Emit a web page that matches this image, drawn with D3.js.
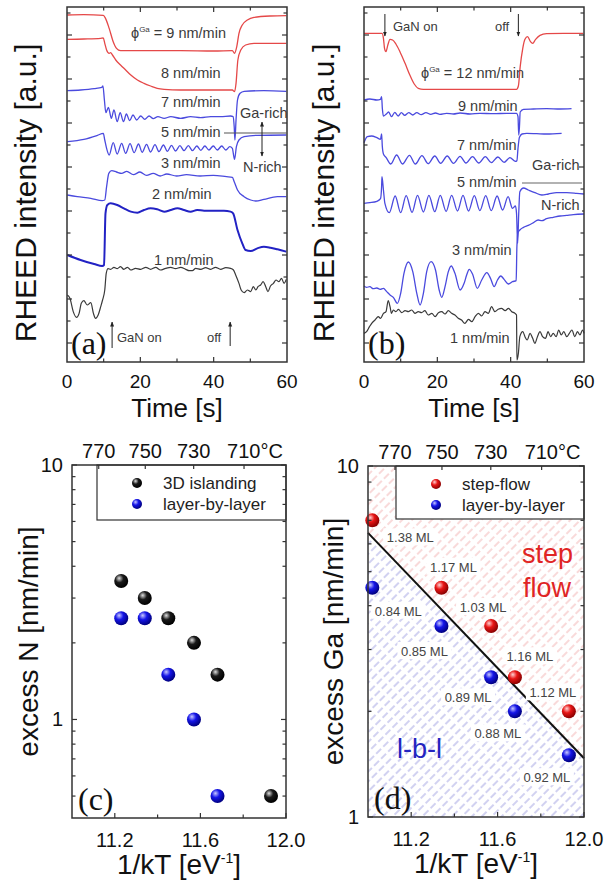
<!DOCTYPE html>
<html><head><meta charset="utf-8">
<script src="https://cdn.jsdelivr.net/npm/d3@7"></script>
<style>
body{margin:0;background:#fff}
svg{display:block}
text{font-family:"Liberation Sans",Arial,Helvetica,sans-serif}
text.serif{font-family:"Liberation Serif","Times New Roman",serif}
</style>
</head><body><svg id="c" width="608" height="888"></svg>
<script>
// ================= DATA =================
// Panel (a): RHEED transients, [time s, intensity a.u.]
const a_9nm = [[0.1,1041],[4.6,1042],[9.9,1040],[10.5,1031],[11.5,1001],[12.6,961],[13.5,941],[14.6,934],[21.9,934],[31,934],[40.1,933],[45.1,934],[45.7,926],[46.3,946],[46.9,986],[47.8,1011],[49.2,1026],[51,1034],[55.5,1038],[59.8,1039]];
const a_8nm = [[0.1,968],[4.6,969],[9.2,971],[9.9,972],[10.3,956],[10.8,936],[11.5,926],[11.9,928],[12.4,921],[13.3,906],[14.6,891],[16,876],[17.4,861],[19.2,846],[21,836],[22.8,828],[24.6,821],[26.5,818],[31,816],[35.5,816],[40.1,816],[45.1,816],[45.7,811],[46.1,836],[46.6,906],[47.4,936],[48.7,951],[51,956],[55.5,956],[59.8,956]];
const a_7nm = [[0.1,814],[3.7,816],[7.4,820],[9.5,824],[9.8,828],[10.2,786],[10.6,748],[11.3,764],[12.1,731],[12.8,756],[13.7,721],[14.5,748],[15.4,721],[16.2,744],[17.1,724],[18,741],[19,726],[20.1,738],[21.2,728],[22.4,738],[23.5,730],[24.8,736],[26.5,731],[28.3,736],[31,731],[33.7,736],[36.5,733],[39.2,736],[41.9,736],[44.6,738],[45.3,736],[45.6,706],[45.8,666],[46.1,726],[46.5,786],[47.2,806],[48.3,812],[53.7,814],[59.8,812]];
const a_5nm = [[0.1,661],[4.6,668],[8.3,680],[9.9,686],[10.3,666],[10.8,641],[11.5,621],[12.6,658],[13.7,624],[14.9,656],[16,626],[17.2,655],[18.3,628],[19.5,654],[20.5,629],[21.7,653],[22.8,630],[24,652],[25.1,631],[26.3,651],[27.4,632],[28.5,650],[29.6,633],[30.8,649],[31.9,634],[33.1,649],[34.2,634],[35.4,648],[36.5,635],[37.6,648],[38.7,636],[39.9,648],[41,636],[42.2,648],[43.3,636],[44.4,646],[45.1,641],[45.5,616],[45.7,608],[46.2,646],[46.9,666],[48.3,676],[51.9,680],[59.8,681]];
const a_3nm = [[0.1,501],[2.8,496],[6.5,491],[9.6,484],[10.3,486],[10.8,526],[11.4,566],[12.2,574],[13.5,570],[14.9,566],[16.3,572],[18.1,562],[19.9,570],[21.7,560],[23.5,566],[25.4,558],[27.2,564],[29.9,558],[32.6,562],[36.3,558],[39.9,560],[43.5,556],[45.1,554],[45.6,541],[46.5,516],[48.3,496],[50.1,486],[51.5,483],[53.7,488],[57.4,496],[59.8,496]];
const a_2nm = [[0.1,321],[3.7,306],[7.4,294],[9.6,288],[10.1,291],[10.5,446],[11,471],[11.9,476],[13.7,471],[15.5,461],[17.4,451],[19.2,448],[21,456],[22.8,461],[24.6,458],[26.5,451],[28.3,456],[30.1,461],[31.9,456],[33.7,451],[35.5,456],[37.4,454],[40.1,454],[42.8,454],[44.6,451],[45.3,446],[46.5,396],[47.8,356],[48.7,336],[50.1,333],[51.9,341],[53.7,346],[55.5,343],[57.4,338],[59.8,331]];
const a_1nm = [[0.1,201],[0.8,191],[1.7,151],[2.6,134],[3.3,146],[3.9,176],[4.6,184],[5.5,171],[6.5,178],[7.2,146],[7.8,131],[8.5,141],[9.2,166],[9.7,186],[10.3,216],[10.7,266],[11.2,280],[11.9,278],[12.8,284],[13.7,280],[14.6,286],[15.5,278],[16.5,284],[17.4,276],[18.7,281],[20.1,278],[21.5,284],[22.8,278],[24.2,284],[25.5,276],[26.9,281],[28.3,284],[29.6,280],[31,284],[32.4,278],[33.3,274],[34.2,274],[35.1,281],[36.5,278],[37.8,283],[39.2,278],[40.5,284],[41.9,278],[43.3,283],[44.6,281],[45.4,276],[46,261],[46.9,236],[47.5,216],[48.3,208],[49.2,216],[50.1,211],[50.8,226],[51.5,216],[52.1,226],[52.8,231],[53.5,241],[54.2,226],[54.8,211],[55.5,228],[56.3,236],[57,246],[57.8,241],[58.5,251],[59.2,236],[59.8,248]];

// Panel (b)
const b_12nm = [[0,986],[2.5,986],[4.9,986],[5.3,971],[5.6,941],[6,931],[6.5,951],[7.1,968],[7.8,966],[8.7,954],[9.8,931],[11.2,896],[12.5,861],[13.7,834],[14.8,821],[16.2,818],[26.2,818],[35.3,818],[41.6,818],[42.1,828],[42.6,886],[43.3,941],[43.9,968],[44.6,976],[45.4,961],[46,956],[46.8,968],[48,980],[49.8,985],[54.4,986],[59.8,986]];
const b_9nm = [[0,786],[1.6,789],[3.5,786],[4.5,788],[4.8,796],[5,761],[5.3,738],[6,743],[6.7,750],[7.5,736],[8.4,749],[9.3,738],[10.2,748],[11.1,740],[12.2,748],[13.3,741],[14.4,748],[15.6,742],[16.9,748],[18.2,743],[19.5,747],[20.7,743],[22.5,746],[24.4,744],[26.2,747],[28.9,744],[31.6,746],[35.3,745],[38.9,746],[41.6,746],[42,736],[42.2,681],[42.4,706],[42.6,750],[43.5,758],[46.2,759],[49.8,760],[53.5,759],[56.6,760]];
const b_7nm = [[0,658],[0.9,676],[2.1,678],[3.5,673],[4.5,668],[4.8,684],[5,646],[5.3,624],[6,614],[7.3,594],[8.9,621],[10.5,594],[12.4,620],[14,594],[15.8,619],[17.5,595],[19.3,618],[20.9,596],[22.7,618],[24.4,596],[26.2,617],[27.8,597],[29.6,616],[31.3,597],[33.1,616],[34.7,598],[36.5,615],[38.2,599],[39.8,613],[41.3,602],[41.7,604],[42,641],[42.4,674],[43.1,684],[44.4,686],[47.1,685],[49.8,684],[53.9,686]];
const b_5nm = [[0,476],[1.6,478],[3.5,482],[4.5,490],[4.8,526],[4.9,556],[5.3,516],[5.7,476],[6.9,448],[8.5,498],[10,448],[11.5,499],[13.1,449],[14.6,500],[16.2,450],[17.7,500],[19.3,451],[20.8,500],[22.4,452],[23.9,500],[25.5,453],[27,500],[28.5,453],[30.1,499],[31.6,454],[33.2,499],[34.7,454],[36.3,498],[37.8,456],[39.3,496],[40.5,461],[41.3,468],[41.6,446],[41.9,356],[42.2,446],[42.5,511],[43.5,522],[44.8,516],[46.6,508],[48.5,501],[50.3,504],[52.5,508],[55.3,508],[58,506],[60,504]];
const b_3nm = [[0,228],[0.7,224],[1.6,226],[2.5,220],[3.5,222],[4.4,218],[5.3,221],[6.2,211],[7.1,201],[8,194],[9.1,176],[10,206],[10.9,266],[12.1,300],[13.3,271],[14.4,206],[15.3,171],[16.2,206],[17.1,271],[18.3,301],[19.5,276],[20.5,216],[21.2,194],[22.1,226],[23,271],[23.8,288],[24.8,266],[26.2,216],[27.3,236],[28,261],[28.7,278],[29.6,264],[30.9,221],[32.1,246],[33.5,268],[34.5,251],[35.5,226],[36.4,246],[37.3,258],[38.2,248],[39.4,234],[40.5,241],[41.5,244],[41.7,346],[42,388],[42.5,396],[43.5,404],[44.8,410],[46.2,418],[47.5,426],[48.5,424],[49.8,430],[51.6,434],[53.5,438],[55.3,440],[57.1,442],[60,444]];
const b_1nm = [[0,86],[0.7,91],[1.5,106],[2.1,116],[3,126],[3.9,136],[4.5,131],[5.3,146],[6,151],[6.6,184],[7.1,166],[7.5,146],[8,156],[8.7,151],[9.4,158],[10.3,148],[11.2,154],[12.1,151],[13,156],[13.9,146],[14.8,151],[15.7,148],[16.6,154],[17.5,141],[18.5,146],[19.4,136],[20.3,148],[21.2,151],[22.1,144],[23,154],[23.9,146],[24.8,141],[25.7,131],[26.6,126],[27.5,116],[28.5,128],[29.4,121],[30.3,136],[31.2,146],[32.1,138],[33,151],[33.9,146],[34.8,166],[35.7,151],[36.6,158],[37.5,161],[38.5,154],[39.4,161],[40.3,151],[41.2,146],[41.6,141],[41.7,6],[42.1,26],[42.5,76],[43.3,91],[43.9,76],[44.5,66],[45.3,86],[46,71],[46.6,56],[47.3,76],[48,91],[48.7,76],[49.5,71],[50.2,91],[50.9,76],[51.6,86],[52.4,76],[53.1,96],[53.8,81],[54.5,91],[55.3,76],[56,86],[56.7,96],[57.5,76],[58.2,91],[58.9,81],[59.6,96],[60,86]];

const timeTickLabels = [0, 20, 40, 60];

// Panel (c): 1/kT [eV^-1] vs excess N [nm/min]
const c_island_x = [11.23, 11.34, 11.45, 11.57, 11.68, 11.93];
const c_island_y = [3.5, 3.0, 2.5, 2.0, 1.5, 0.5];
const c_lbl_x = [11.23, 11.34, 11.45, 11.57, 11.68];
const c_lbl_y = [2.5, 2.5, 1.5, 1.0, 0.5];

// Panel (d): 1/kT vs excess Ga [nm/min]
const d_step_x = [11.02, 11.34, 11.57, 11.68, 11.93];
const d_step_y = [7.0, 4.5, 3.5, 2.5, 2.0];
const d_step_ml = ["1.38 ML", "1.17 ML", "1.03 ML", "1.16 ML", "1.12 ML"];
const d_lbl_x = [11.02, 11.34, 11.57, 11.68, 11.93];
const d_lbl_y = [4.5, 3.5, 2.5, 2.0, 1.5];
const d_lbl_ml = ["0.84 ML", "0.85 ML", "0.89 ML", "0.88 ML", "0.92 ML"];
const d_boundary = [[11.0, 6.45], [12.0, 1.47]];

const invKTTicks = [11.2, 11.6, 12.0];
const invKTMinor = [11.4, 11.8];
const tempTicksC = [770, 750, 730, 710];

// ================= DRAW =================
const svg = d3.select("#c");
const defs = svg.append("defs");
const kB = 8.617e-5;
const invKT = T => 1 / (kB * (T + 273.15));

function sphereGrad(id, hi, mid, lo) {
  const g = defs.append("radialGradient").attr("id", id)
    .attr("cx", "38%").attr("cy", "35%").attr("r", "65%").attr("fx", "35%").attr("fy", "30%");
  g.append("stop").attr("offset", "0%").attr("stop-color", hi);
  g.append("stop").attr("offset", "45%").attr("stop-color", mid);
  g.append("stop").attr("offset", "100%").attr("stop-color", lo);
}
sphereGrad("gBlack", "#e0e0e0", "#1a1a1a", "#000");
sphereGrad("gBlue", "#c8c8ff", "#1515e8", "#000080");
sphereGrad("gRed", "#ffd0d0", "#e81515", "#8a0000");

function hatch(id, color) {
  const p = defs.append("pattern").attr("id", id).attr("patternUnits", "userSpaceOnUse")
    .attr("width", 7).attr("height", 10).attr("patternTransform", "rotate(45)");
  p.append("line").attr("x1", 1).attr("y1", 0).attr("x2", 1).attr("y2", 10)
    .attr("stroke", color).attr("stroke-width", 1).attr("stroke-dasharray", "7,3");
}
hatch("hBlue", "#a4a4e2");
hatch("hRed", "#f2b4b4");

const mk = defs.append("marker").attr("id", "arr").attr("viewBox", "0 0 10 10")
  .attr("refX", 9).attr("refY", 5).attr("markerWidth", 5).attr("markerHeight", 5)
  .attr("orient", "auto-start-reverse");
mk.append("path").attr("d", "M0,1 L10,5 L0,9 z").attr("fill", "#222");

// ---------- time-series panels ----------
function tsPanel(cfg) {
  const x = d3.scaleLinear().domain([0, 60]).range([cfg.l, cfg.r]);
  const y = d3.scaleLinear().domain([0, 1065]).range([cfg.b, cfg.t]);
  const g = svg.append("g");
  const line = d3.line().x(d => x(d[0])).y(d => y(d[1])).curve(d3.curveMonotoneX);
  cfg.curves.forEach(c => {
    g.append("path").datum(c.data).attr("d", line).attr("fill", "none")
      .attr("stroke", c.color).attr("stroke-width", c.w || 1.3).attr("stroke-linejoin", "round");
  });
  g.append("rect").attr("x", cfg.l).attr("y", cfg.t).attr("width", cfg.r - cfg.l).attr("height", cfg.b - cfg.t)
    .attr("fill", "none").attr("stroke", "#333").attr("stroke-width", 1.5);
  d3.range(10, 60, 10).forEach(v => {
    const len = v % 20 === 0 ? 5 : 3.5;
    g.append("line").attr("x1", x(v)).attr("x2", x(v)).attr("y1", cfg.b).attr("y2", cfg.b - len).attr("stroke", "#333").attr("stroke-width", 1.2);
    g.append("line").attr("x1", x(v)).attr("x2", x(v)).attr("y1", cfg.t).attr("y2", cfg.t + len).attr("stroke", "#333").attr("stroke-width", 1.2);
  });
  d3.range(57, 1048, 66).forEach((v, i) => {
    const len = i % 2 === 0 ? 5 : 3.5;
    g.append("line").attr("x1", cfg.l).attr("x2", cfg.l + len).attr("y1", y(v)).attr("y2", y(v)).attr("stroke", "#333").attr("stroke-width", 1.2);
    g.append("line").attr("x1", cfg.r).attr("x2", cfg.r - len).attr("y1", y(v)).attr("y2", y(v)).attr("stroke", "#333").attr("stroke-width", 1.2);
  });
  timeTickLabels.forEach(v => {
    g.append("text").attr("x", x(v)).attr("y", cfg.b + 26).attr("text-anchor", "middle")
      .attr("font-size", 19).attr("fill", "#111").text(v);
  });
  g.append("text").attr("x", (cfg.l + cfg.r) / 2).attr("y", cfg.b + 55).attr("text-anchor", "middle")
    .attr("font-size", 26).attr("fill", "#111").text("Time [s]");
  g.append("text").attr("transform", `translate(${cfg.ylabX},193) rotate(-90)`).attr("text-anchor", "middle")
    .attr("font-size", 30).attr("fill", "#111").text("RHEED intensity [a.u.]");
  g.append("text").attr("class", "serif").attr("x", cfg.l + 4).attr("y", cfg.b - 8)
    .attr("font-size", 32).attr("fill", "#111").text(cfg.tag);
  return {g, x, y};
}

function lab(g, xp, yp, txt, size, anchor) {
  return g.append("text").attr("x", xp).attr("y", yp).attr("font-size", size || 14.5)
    .attr("fill", "#3a3a3a").attr("text-anchor", anchor || "start").text(txt);
}
function phiLab(g, xp, yp, rest) {
  const t = g.append("text").attr("x", xp).attr("y", yp).attr("font-size", 14.5).attr("fill", "#3a3a3a");
  t.append("tspan").text("ϕ");
  t.append("tspan").attr("dy", -6).attr("font-size", 8).text("Ga");
  t.append("tspan").attr("dy", 6).text(" = " + rest);
}

const RED = "#e54848", BLUE = "#4a4ade", DBLUE = "#2222c4", BLK = "#3a3a3a";

// Panel (a)
const A = tsPanel({l: 67, r: 287, t: 7, b: 362, ylabX: 36, tag: "(a)", curves: [
  {data: a_9nm, color: RED}, {data: a_8nm, color: RED}, {data: a_7nm, color: BLUE},
  {data: a_5nm, color: BLUE}, {data: a_3nm, color: BLUE}, {data: a_2nm, color: DBLUE, w: 2},
  {data: a_1nm, color: BLK, w: 1.2}]});
phiLab(A.g, 131, 38, "9 nm/min");
lab(A.g, 161, 78, "8 nm/min");
lab(A.g, 161, 107, "7 nm/min");
lab(A.g, 161, 137, "5 nm/min");
lab(A.g, 161, 168, "3 nm/min");
lab(A.g, 152, 199, "2 nm/min");
lab(A.g, 154, 265, "1 nm/min");
A.g.append("line").attr("x1", 224).attr("x2", 287).attr("y1", 133).attr("y2", 133).attr("stroke", "#555").attr("stroke-width", 1.2);
A.g.append("rect").attr("x", 239).attr("y", 105).attr("width", 47).attr("height", 16).attr("fill", "#fff");
lab(A.g, 240, 118, "Ga-rich");
lab(A.g, 243, 172, "N-rich");
A.g.append("line").attr("x1", 262).attr("x2", 262).attr("y1", 138).attr("y2", 122).attr("stroke", "#222").attr("stroke-width", 1).attr("marker-end", "url(#arr)");
A.g.append("line").attr("x1", 262).attr("x2", 262).attr("y1", 138).attr("y2", 156).attr("stroke", "#222").attr("stroke-width", 1).attr("marker-end", "url(#arr)");
A.g.append("line").attr("x1", A.x(12.3)).attr("x2", A.x(12.3)).attr("y1", 348).attr("y2", 322).attr("stroke", "#222").attr("stroke-width", 1).attr("marker-end", "url(#arr)");
lab(A.g, 117, 342, "GaN on", 13);
lab(A.g, 207, 342, "off", 13);
A.g.append("line").attr("x1", A.x(44.5)).attr("x2", A.x(44.5)).attr("y1", 346).attr("y2", 322).attr("stroke", "#222").attr("stroke-width", 1).attr("marker-end", "url(#arr)");

// Panel (b)
const B = tsPanel({l: 364, r: 584, t: 7, b: 362, ylabX: 334, tag: "(b)", curves: [
  {data: b_12nm, color: RED}, {data: b_9nm, color: BLUE}, {data: b_7nm, color: BLUE},
  {data: b_5nm, color: BLUE}, {data: b_3nm, color: BLUE}, {data: b_1nm, color: BLK, w: 1.2}]});
B.g.append("line").attr("x1", B.x(5.7)).attr("x2", B.x(5.7)).attr("y1", 14).attr("y2", 36).attr("stroke", "#222").attr("stroke-width", 1).attr("marker-end", "url(#arr)");
lab(B.g, 393, 31, "GaN on", 13);
lab(B.g, 495, 31, "off", 13);
B.g.append("line").attr("x1", B.x(42.1)).attr("x2", B.x(42.1)).attr("y1", 14).attr("y2", 36).attr("stroke", "#222").attr("stroke-width", 1).attr("marker-end", "url(#arr)");
phiLab(B.g, 421, 78, "12 nm/min");
lab(B.g, 458, 111, "9 nm/min");
lab(B.g, 457, 150, "7 nm/min");
lab(B.g, 532, 170, "Ga-rich");
lab(B.g, 457, 187, "5 nm/min");
B.g.append("line").attr("x1", 522).attr("x2", 582).attr("y1", 183).attr("y2", 183).attr("stroke", "#666").attr("stroke-width", 1.2);
B.g.append("rect").attr("x", 540).attr("y", 198).attr("width", 42).attr("height", 14).attr("fill", "#fff");
lab(B.g, 541, 210, "N-rich");
lab(B.g, 452, 255, "3 nm/min");
lab(B.g, 450, 343, "1 nm/min");

// ---------- Arrhenius panels ----------
function arrPanel(cfg) {
  const x = d3.scaleLinear().domain([11.0, 12.0]).range([cfg.l, cfg.r]);
  const y = d3.scaleLog().domain(cfg.ydom).range([cfg.b, cfg.t]);
  const g = svg.append("g");
  return {g, x, y};
}
function arrAxes(P, cfg) {
  const {g, x, y} = P;
  g.append("rect").attr("x", cfg.l).attr("y", cfg.t).attr("width", cfg.r - cfg.l).attr("height", cfg.b - cfg.t)
    .attr("fill", "none").attr("stroke", "#333").attr("stroke-width", 1.5);
  invKTTicks.concat(invKTMinor).forEach(v => {
    const len = invKTTicks.includes(v) ? 5 : 3.5;
    g.append("line").attr("x1", x(v)).attr("x2", x(v)).attr("y1", cfg.b).attr("y2", cfg.b - len).attr("stroke", "#333").attr("stroke-width", 1.2);
  });
  invKTTicks.forEach(v => g.append("text").attr("x", x(v)).attr("y", cfg.b + 29).attr("text-anchor", "middle")
    .attr("font-size", 20).attr("fill", "#111").text(v.toFixed(1)));
  tempTicksC.forEach((T, i) => {
    const xv = x(invKT(T));
    g.append("line").attr("x1", xv).attr("x2", xv).attr("y1", cfg.t).attr("y2", cfg.t + 4).attr("stroke", "#333").attr("stroke-width", 1.2);
    const last = i === tempTicksC.length - 1;
    g.append("text").attr("x", last ? xv - 17 : xv).attr("y", cfg.t - 7).attr("text-anchor", last ? "start" : "middle")
      .attr("font-size", 20).attr("fill", "#111").text(last ? T + "°C" : T);
  });
  const yt = [];
  const [lo, hi] = y.domain();
  [0.1, 1].forEach(dec => [1,2,3,4,5,6,7,8,9].forEach(m => { const v = m * dec; if (v >= lo - 1e-9 && v <= hi + 1e-9) yt.push(v); }));
  yt.push(10);
  yt.forEach(v => {
    const major = Math.abs(v - 1) < 1e-9 || Math.abs(v - 10) < 1e-9;
    const len = major ? 5 : 3.5;
    g.append("line").attr("x1", cfg.l).attr("x2", cfg.l + len).attr("y1", y(v)).attr("y2", y(v)).attr("stroke", "#333").attr("stroke-width", 1.2);
    g.append("line").attr("x1", cfg.r).attr("x2", cfg.r - len).attr("y1", y(v)).attr("y2", y(v)).attr("stroke", "#333").attr("stroke-width", 1.2);
  });
  [1, 10].forEach(v => g.append("text").attr("x", cfg.l - 9).attr("y", y(v) + 7).attr("text-anchor", "end")
    .attr("font-size", 20).attr("fill", "#111").text(v));
  const xl = g.append("text").attr("x", (cfg.l + cfg.r) / 2).attr("y", cfg.b + 56).attr("text-anchor", "middle")
    .attr("font-size", 28).attr("fill", "#111");
  xl.append("tspan").text("1/kT [eV");
  xl.append("tspan").attr("dy", -11).attr("font-size", 14).text("-1");
  xl.append("tspan").attr("dy", 11).text("]");
  g.append("text").attr("transform", `translate(${cfg.ylabX},${(cfg.t + cfg.b) / 2}) rotate(-90)`).attr("text-anchor", "middle")
    .attr("font-size", 28).attr("fill", "#111").text(cfg.ylab);
  g.append("text").attr("class", "serif").attr("x", cfg.l + 6).attr("y", cfg.b - 8)
    .attr("font-size", 32).attr("fill", "#111").text(cfg.tag);
}
function legend(g, x0, y0, w, h, items) {
  g.append("rect").attr("x", x0).attr("y", y0).attr("width", w).attr("height", h)
    .attr("fill", "#fff").attr("stroke", "#333").attr("stroke-width", 1.2);
  items.forEach((it, i) => {
    const cy = y0 + 18 + i * 21;
    g.append("circle").attr("cx", x0 + 40).attr("cy", cy).attr("r", 5).attr("fill", it.fill);
    g.append("text").attr("x", x0 + 66).attr("y", cy + 6).attr("font-size", 17).attr("fill", "#222").text(it.label);
  });
}
function dots(P, xs, ys, fill) {
  P.g.selectAll(null).data(xs.map((v, i) => [v, ys[i]])).enter().append("circle")
    .attr("cx", d => P.x(d[0])).attr("cy", d => P.y(d[1])).attr("r", 7).attr("fill", fill);
}

// Panel (c)
const cfgC = {l: 72, r: 286, t: 465, b: 818, ydom: [0.41, 10], ylabX: 38, ylab: "excess N [nm/min]", tag: "(c)"};
const C = arrPanel(cfgC);
legend(C.g, 97, 465, 189, 55, [{fill: "url(#gBlack)", label: "3D islanding"}, {fill: "url(#gBlue)", label: "layer-by-layer"}]);
dots(C, c_island_x, c_island_y, "url(#gBlack)");
dots(C, c_lbl_x, c_lbl_y, "url(#gBlue)");
arrAxes(C, cfgC);

// Panel (d)
const cfgD = {l: 368, r: 584, t: 466, b: 817, ydom: [1, 10], ylabX: 343, ylab: "excess Ga [nm/min]", tag: "(d)"};
const D = arrPanel(cfgD);
const bx0 = D.x(d_boundary[0][0]), by0 = D.y(d_boundary[0][1]);
const bx1 = D.x(d_boundary[1][0]), by1 = D.y(d_boundary[1][1]);
D.g.append("polygon").attr("points", [[bx0, by0], [bx1, by1], [bx1, D.y(1)], [bx0, D.y(1)]].join(" ")).attr("fill", "url(#hBlue)");
D.g.append("polygon").attr("points", [[bx0, by0], [bx0, D.y(10)], [bx1, D.y(10)], [bx1, by1]].join(" ")).attr("fill", "url(#hRed)");
D.g.append("line").attr("x1", bx0).attr("y1", by0).attr("x2", bx1).attr("y2", by1).attr("stroke", "#111").attr("stroke-width", 2);
legend(D.g, 396, 466, 188, 53, [{fill: "url(#gRed)", label: "step-flow"}, {fill: "url(#gBlue)", label: "layer-by-layer"}]);
const stepOff = [[38, 17], [12, -21], [-8, -19], [15, -21], [-16, -19]];
const lblOff = [[26, 23], [-17, 25], [-23, 20], [-17, 22], [-22, 22]];
function mlLabels(xs, ys, txt, offs) {
  xs.forEach((v, i) => {
    const cx = D.x(v) + offs[i][0], cy = D.y(ys[i]) + offs[i][1];
    D.g.append("rect").attr("x", cx - 27).attr("y", cy - 9).attr("width", 54).attr("height", 17).attr("fill", "#fff");
    D.g.append("text").attr("x", cx).attr("y", cy + 5).attr("text-anchor", "middle").attr("font-size", 13).attr("fill", "#444").text(txt[i]);
  });
}
mlLabels(d_step_x, d_step_y, d_step_ml, stepOff);
mlLabels(d_lbl_x, d_lbl_y, d_lbl_ml, lblOff);
dots(D, d_step_x, d_step_y, "url(#gRed)");
dots(D, d_lbl_x, d_lbl_y, "url(#gBlue)");
D.g.append("text").attr("x", 522).attr("y", 563).attr("font-size", 27).attr("fill", "#e02424").text("step");
D.g.append("text").attr("x", 523).attr("y", 597).attr("font-size", 27).attr("fill", "#e02424").text("flow");
D.g.append("text").attr("x", 397).attr("y", 758).attr("font-size", 27).attr("fill", "#2424c0").text("l-b-l");
arrAxes(D, cfgD);
</script>
</body></html>
